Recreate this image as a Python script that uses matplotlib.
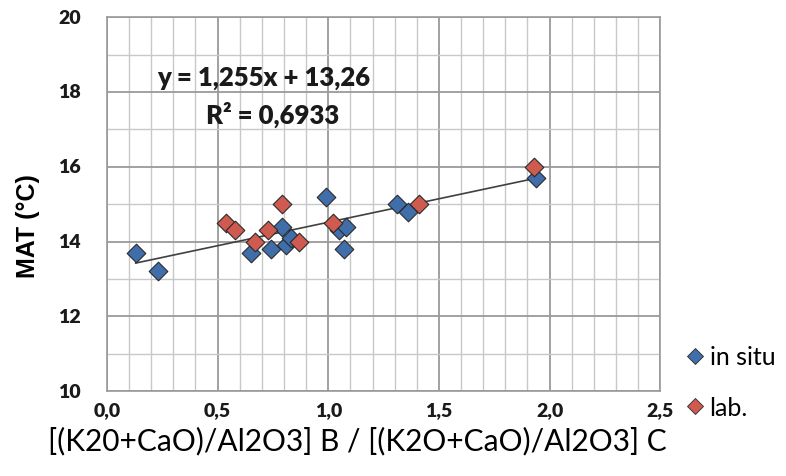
import matplotlib
matplotlib.use("Agg")
import matplotlib.pyplot as plt
from matplotlib.ticker import MultipleLocator
from matplotlib.lines import Line2D
import numpy as np

# Ratio [(K2O+CaO)/Al2O3]B / [(K2O+CaO)/Al2O3]C versus mean annual temperature
insitu_x = [0.13, 0.23, 0.65, 0.74, 0.79, 0.81, 0.83, 0.99, 1.05, 1.08, 1.07, 1.31, 1.36, 1.94]
insitu_y = [13.7, 13.2, 13.7, 13.8, 14.4, 13.9, 14.1, 15.2, 14.3, 14.4, 13.8, 15.0, 14.8, 15.7]
lab_x = [0.54, 0.58, 0.67, 0.73, 0.79, 0.87, 1.02, 1.41, 1.93]
lab_y = [14.5, 14.3, 14.0, 14.3, 15.0, 14.0, 14.5, 15.0, 16.0]

slope, intercept = 1.255, 13.26
eq_text = "y = 1,255x + 13,26"
r2_text = "R² = 0,6933"

xticks = [0.0, 0.5, 1.0, 1.5, 2.0, 2.5]
yticks = [10, 12, 14, 16, 18, 20]

blue = "#3f6eab"
red = "#cf5a4f"
narrow = ["Lato", "DejaVu Sans"]

plt.rcParams["font.family"] = narrow

fig = plt.figure(figsize=(7.86, 4.77), dpi=100)
ax = fig.add_axes([0.136, 0.178, 0.704, 0.784])

ax.set_xlim(0, 2.5)
ax.set_ylim(10, 20)
ax.xaxis.set_minor_locator(MultipleLocator(0.1))
ax.yaxis.set_minor_locator(MultipleLocator(1))
ax.grid(which="minor", color="#c8c8c8", linewidth=1.0)
ax.grid(which="major", color="#9a9a9a", linewidth=1.3)
ax.set_axisbelow(True)
for s in ax.spines.values():
    s.set_color("#9a9a9a")
    s.set_linewidth(1.2)
ax.set_xticks(xticks)
ax.set_yticks(yticks)
ax.xaxis.set_ticklabels([])
ax.yaxis.set_ticklabels([])
ax.tick_params(which="both", length=0)

# tick labels as explicit text at the tick positions
tick_style = dict(family=narrow, fontweight="heavy", fontsize=14, color="#1a1a1a")
for v in xticks:
    ax.annotate(f"{v:.1f}".replace(".", ","), xy=(v, 0), xycoords=("data", "axes fraction"),
                xytext=(0, -13), textcoords="offset points", ha="center", va="center",
                **tick_style)
for v in yticks:
    ax.annotate(str(v), xy=(0, v), xycoords=("axes fraction", "data"),
                xytext=(-19, 0), textcoords="offset points", ha="right", va="center",
                **tick_style)

# trend line over the range of all samples
all_x = np.array(insitu_x + lab_x)
lx = np.array([all_x.min(), all_x.max()])
ax.plot(lx, slope * lx + intercept, color="#404040", linewidth=1.2, zorder=2)

mk = dict(marker="D", s=90, edgecolors="#2a2a2a", linewidths=0.8, zorder=3)
ax.scatter(insitu_x, insitu_y, color=blue, **mk)
ax.scatter(lab_x, lab_y, color=red, **mk)

ax.text(0.71, 18.4, eq_text, ha="center", va="center", fontsize=18.5, fontweight="heavy",
        color="#1a1a1a")
ax.text(0.75, 17.4, r2_text, ha="center", va="center", fontsize=18.5, fontweight="heavy",
        color="#1a1a1a")

fig.text(28 / 786, 1 - 226 / 477, "MAT (°C)", rotation=90, ha="center", va="center",
         fontsize=18, fontweight="bold", family="Liberation Sans")
fig.text(357 / 786, 1 - 441 / 477, "[(K20+CaO)/Al2O3] B / [(K2O+CaO)/Al2O3] C",
         ha="center", va="center", fontsize=21.5, fontweight="normal")

handles = [
    Line2D([], [], marker="D", linestyle="none", markersize=8, markerfacecolor=blue,
           markeredgecolor="#2a2a2a", markeredgewidth=0.6, label="in situ"),
    Line2D([], [], marker="D", linestyle="none", markersize=8, markerfacecolor=red,
           markeredgecolor="#2a2a2a", markeredgewidth=0.6, label="lab."),
]
fig.legend(handles=handles, loc="upper left", bbox_to_anchor=(0.855, 0.295), frameon=False,
           prop={"family": narrow, "size": 18, "weight": "normal"}, handletextpad=0.1,
           labelspacing=1.1, handlelength=1.0, borderaxespad=0)

fig.savefig("out.png", dpi=100, facecolor="white")
